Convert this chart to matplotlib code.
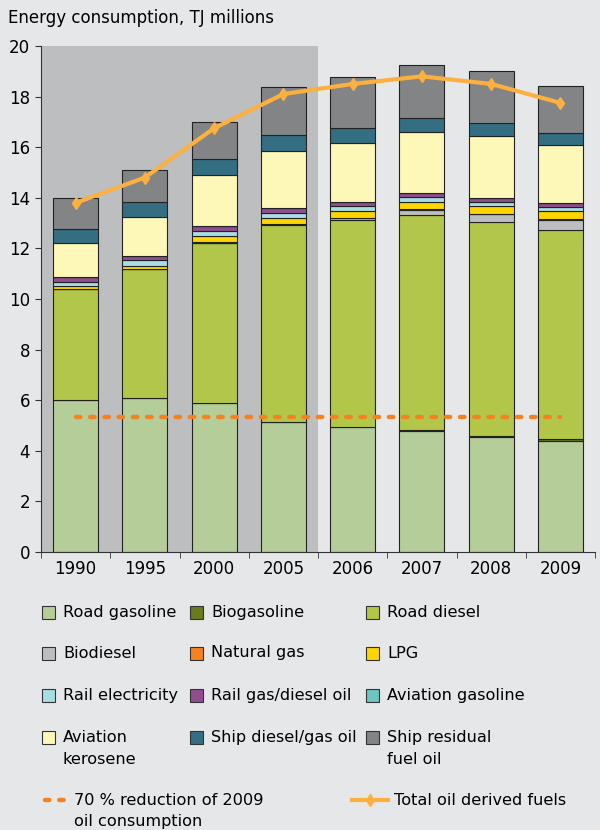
import numpy as np
import matplotlib
matplotlib.use('Agg')
import matplotlib.pyplot as plt
from matplotlib.patches import Rectangle
from matplotlib.lines import Line2D

years = ['1990', '1995', '2000', '2005', '2006', '2007', '2008', '2009']

# stacked components, TJ millions (bottom to top)
road_gasoline = [6.00, 6.08, 5.90, 5.12, 4.93, 4.78, 4.55, 4.38]
biogasoline = [0.00, 0.00, 0.00, 0.02, 0.02, 0.03, 0.05, 0.10]
road_diesel = [4.40, 5.09, 6.33, 7.78, 8.17, 8.51, 8.45, 8.25]
biodiesel = [0.00, 0.00, 0.00, 0.04, 0.08, 0.20, 0.30, 0.40]
natural_gas = [0.01, 0.01, 0.01, 0.01, 0.02, 0.02, 0.02, 0.02]
lpg = [0.10, 0.13, 0.24, 0.24, 0.26, 0.28, 0.29, 0.32]
rail_electricity = [0.18, 0.22, 0.21, 0.20, 0.18, 0.20, 0.18, 0.18]
rail_gas_diesel = [0.18, 0.17, 0.18, 0.17, 0.16, 0.16, 0.16, 0.13]
aviation_gasoline = [0.01, 0.01, 0.01, 0.01, 0.01, 0.01, 0.01, 0.01]
aviation_kerosene = [1.33, 1.53, 2.02, 2.26, 2.33, 2.41, 2.45, 2.29]
ship_diesel = [0.57, 0.60, 0.63, 0.63, 0.59, 0.54, 0.51, 0.47]
ship_residual = [1.22, 1.24, 1.47, 1.90, 2.04, 2.10, 2.05, 1.88]

total_oil = [13.8, 14.8, 16.75, 18.1, 18.5, 18.8, 18.5, 17.75]
reduction_2009 = 5.33

series = [
    ('Road gasoline', road_gasoline, '#B5CD99'),
    ('Biogasoline', biogasoline, '#6B7A1F'),
    ('Road diesel', road_diesel, '#B2C74A'),
    ('Biodiesel', biodiesel, '#BDBEC0'),
    ('Natural gas', natural_gas, '#F58220'),
    ('LPG', lpg, '#FFD500'),
    ('Rail electricity', rail_electricity, '#A8DDE3'),
    ('Rail gas/diesel oil', rail_gas_diesel, '#914E8E'),
    ('Aviation gasoline', aviation_gasoline, '#6CC5C0'),
    ('Aviation\nkerosene', aviation_kerosene, '#FEF8B8'),
    ('Ship diesel/gas oil', ship_diesel, '#336E82'),
    ('Ship residual\nfuel oil', ship_residual, '#838486'),
]

bg = '#E6E7E8'
dash = (0, (1.0, 2.2))
fs = 11.6

fig = plt.figure(figsize=(6, 8.3), dpi=100, facecolor=bg)
ax = fig.add_axes([41 / 600, 1 - 552 / 830, (595 - 41) / 600, (552 - 46) / 830])
ax.set_facecolor(bg)

x = np.arange(len(years))
ax.set_xlim(-0.5, len(years) - 0.5)
ax.set_ylim(0, 20)

# shaded historic period
ax.axvspan(-0.5, 3.5, color='#BDBEC0', zorder=0, lw=0)

bottom = np.zeros(len(years))
for name, vals, col in series:
    vals = np.array(vals)
    ax.bar(x, vals, bottom=bottom, width=0.65, color=col, edgecolor='#222222',
           linewidth=0.8, zorder=2)
    bottom += vals

ax.plot([x[0], x[-1]], [reduction_2009, reduction_2009], color='#F58220', lw=3.2,
        linestyle=dash, dash_capstyle='round', zorder=4)
ax.plot(x, total_oil, color='#FBB040', lw=3, marker='d', ms=6, zorder=5)

for s in ['top', 'right']:
    ax.spines[s].set_visible(False)
for s in ['left', 'bottom']:
    ax.spines[s].set_color('#333333')
    ax.spines[s].set_linewidth(0.8)

ax.set_yticks(range(0, 21, 2))
ax.set_xticks(x)
ax.set_xticklabels(years)
ax.set_xticks(np.arange(-0.5, len(years), 1), minor=True)
ax.tick_params(axis='x', which='major', length=0, labelsize=12, pad=6)
ax.tick_params(axis='x', which='minor', length=4, color='#333333', direction='out')
ax.tick_params(axis='y', length=4, color='#333333', labelsize=12, pad=4)

fig.text(8 / 600, 1 - 18 / 830, 'Energy consumption, TJ millions', fontsize=12,
         va='center', ha='left')

# legend, filled row by row
col_x = [42, 190, 366]
row_y = [612, 653, 695, 737]
for i, (name, vals, col) in enumerate(series):
    r, c = divmod(i, 3)
    px, py = col_x[c], row_y[r]
    fig.patches.append(Rectangle((px / 600, 1 - (py + 7) / 830), 13 / 600, 13 / 830,
                                 transform=fig.transFigure, facecolor=col,
                                 edgecolor='#333333', lw=0.8))
    if '\n' in name:
        fig.text((px + 21) / 600, 1 - (py - 7) / 830, name, fontsize=fs, va='top',
                 ha='left', linespacing=1.6)
    else:
        fig.text((px + 21) / 600, 1 - py / 830, name, fontsize=fs, va='center', ha='left')

ly = 1 - 800 / 830
fig.lines.append(Line2D([45 / 600, 68 / 600], [ly, ly], transform=fig.transFigure,
                        color='#F58220', lw=3.2, linestyle=dash, dash_capstyle='round'))
fig.text(74 / 600, 1 - 793 / 830, '70 % reduction of 2009\noil consumption', fontsize=fs,
         va='top', ha='left', linespacing=1.5)
fig.lines.append(Line2D([352 / 600, 370 / 600, 388 / 600], [ly, ly, ly],
                        transform=fig.transFigure, color='#FBB040', lw=3,
                        marker='d', ms=6, markevery=[1]))
fig.text(394 / 600, ly, 'Total oil derived fuels', fontsize=fs, va='center', ha='left')

fig.savefig('out.png', dpi=100, facecolor=bg)
